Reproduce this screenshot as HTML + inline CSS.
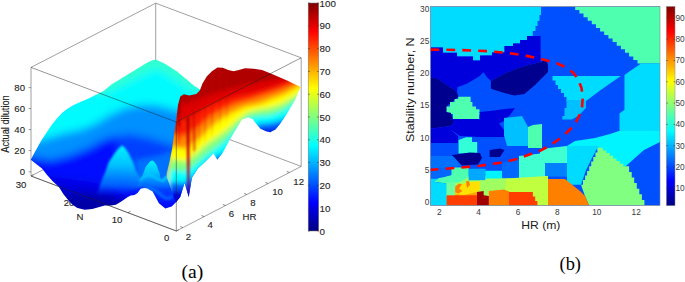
<!DOCTYPE html>
<html><head><meta charset="utf-8">
<style>
html,body{margin:0;padding:0;background:#fff;width:685px;height:282px;overflow:hidden}
svg{position:absolute;left:0;top:0;display:block}
text{font-family:"Liberation Sans",sans-serif}
.t{font-size:9.6px;fill:#1e1e1e;stroke:#1e1e1e;stroke-width:0.12px}
.tb{font-size:8.3px;fill:#3a3a3a}
.lab{font-family:"Liberation Serif",serif;font-size:19.6px;fill:#000}
</style></head>
<body>
<svg width="685" height="282" viewBox="0 0 685 282">
<defs>
<linearGradient id="jetv" x1="0" y1="1" x2="0" y2="0">
<stop offset="0" stop-color="#000080"/>
<stop offset="0.125" stop-color="#0000ff"/>
<stop offset="0.375" stop-color="#00ffff"/>
<stop offset="0.625" stop-color="#ffff00"/>
<stop offset="0.875" stop-color="#ff0000"/>
<stop offset="1" stop-color="#800000"/>
</linearGradient>
</defs>
<rect width="685" height="282" fill="#fff"/>
<g id="A">
<g stroke="#777" stroke-width="0.7" fill="none"><path d="M31 67.4 L155.7 3.2 L301.2 57.8 M155.7 3.2 V111.8 M31 67.4 V176 M301.2 57.8 V166.4 M31 176 L155.7 111.8 L301.2 166.4 M31 176 L176.3 231 L301.2 166.4"/></g>
<g class="t" text-anchor="middle">
<text x="21" y="188.2">30</text>
<text x="69" y="205.8">20</text>
<text x="117" y="223.3">10</text>
<text x="166.6" y="241.4">0</text>
<text x="80" y="219.8">N</text>
<text x="188.4" y="240.1">2</text>
<text x="210.2" y="228.3">4</text>
<text x="231.4" y="217.2">6</text>
<text x="252.9" y="206.4">8</text>
<text x="277.5" y="195.3">10</text>
<text x="298.7" y="184.6">12</text>
<text x="249.5" y="219.9">HR</text>
</g>
<path stroke="#666" stroke-width="0.8" fill="none" d="M176.3 231.0 l2.6 -1.35 M127.9 212.7 l2.6 -1.35 M79.4 194.3 l2.6 -1.35 M31.0 176.0 l2.6 -1.35 M182.9 227.6 l-2.6 -1.0 M204.2 216.6 l-2.6 -1.0 M225.5 205.5 l-2.6 -1.0 M246.8 194.5 l-2.6 -1.0 M268.1 183.5 l-2.6 -1.0 M289.4 172.5 l-2.6 -1.0"/>
<defs>
<mask id="bodyclip" maskUnits="userSpaceOnUse" x="0" y="0" width="685" height="282"><path fill="#fff" d="M30.7 159.7 L36 149.9 L41.3 140.6 L46.6 132.6 L52 124.6 L57.3 118 L62.6 112.6 L67.9 108.6 L73.2 105.2 L78.6 102.8 L83.9 100.6 L89.2 98.3 L95 95.2 L103.5 91 L112 84 L120.5 79 L129 73.8 L137.6 68.4 L146.1 63.2 L151 60.8 L155.6 59.6 L160 61.5 L165.3 64.1 L176.7 71.2 L185.2 78.3 L193.8 85.4 L200 89.6 L200 166 L197.2 169.3 L191.9 177.8 L188.7 196.9 L186 186 L184.5 183.1 L180.2 196.9 L176 202.2 L171.7 206.5 L165.3 208.6 L158.9 203.3 L152.6 191.6 L147.2 188.5 L144.4 188.1 L140.7 188.7 L137.6 193 L134.5 194.9 L130.8 195.5 L127 197.4 L122.1 201.1 L115.9 204.8 L110.9 205.4 L104.7 205.4 L98.5 207.3 L92.3 209.1 L84.9 209.8 L77.4 207.9 L72.5 204.8 L68.5 200.4 L63.3 194 L58.8 186.7 L52.7 181.3 L47.1 175 L42 168.5Z"/></mask>
<mask id="redclip" maskUnits="userSpaceOnUse" x="0" y="0" width="685" height="282"><path fill="#fff" d="M180.3 96.6 L183.9 94.3 L189.2 95.4 L196.3 94 L199.8 90.4 L202.5 83.4 L206.9 76.3 L212.2 71 L217.5 67.4 L222.8 67.8 L228.2 70.1 L233.5 71.3 L238.8 70.1 L245 68.3 L253.9 68.7 L262 70 L271.4 73.7 L287 80.4 L300.5 87 L295 100.3 L290.6 107.4 L285.3 116.3 L279.9 124.2 L275.5 129.6 L270.2 132.2 L265.8 131.3 L260.4 128.7 L256 123.4 L252.5 118.9 L248 117.2 L241.8 119.8 L235 131 L229 141 L222.3 153.6 L217.3 159.8 L213.6 153.6 L204.9 162.3 L197.2 169.3 L191.9 177.8 L188.7 196.9 L184.5 183.1 L180.2 196.9 L176 202.2 L173 195 L170 186 L167 178 L166.5 173.8 L167.9 168.2 L169.9 159.7 L172.2 148.3 L174 135 L176 122 L178 105Z"/></mask>
<filter id="bl6" x="-20%" y="-20%" width="140%" height="140%"><feGaussianBlur stdDeviation="4"/></filter>
<filter id="bl1" x="-50%" y="-20%" width="200%" height="140%"><feGaussianBlur stdDeviation="0.8"/></filter>
<filter id="bl3" x="-20%" y="-20%" width="140%" height="140%"><feGaussianBlur stdDeviation="2.5"/></filter>
<linearGradient id="bump" x1="0" y1="0" x2="0" y2="1"><stop offset="0" stop-color="#00f4ff"/><stop offset="0.4" stop-color="#00c0ff"/><stop offset="0.8" stop-color="#0070ff" stop-opacity="0.8"/><stop offset="1" stop-color="#0040ff" stop-opacity="0"/></linearGradient>
</defs>
<g mask="url(#bodyclip)">
<rect x="25" y="50" width="180" height="170" fill="#0000a8"/>
<g filter="url(#bl6)">
<path fill="#0000e0" d="M20 40 L210 40 L210 212 L175 212 L150 212 L130 205 L110 196 L90 194 L70 194 L50 190 L20 190Z"/>
<path fill="#0010ff" d="M20 40 L210 40 L210 212 L175 212 L140 212 L125 195 L110 186 L90 182 L60 178 L40 176 L20 176Z"/>
<path fill="#0040ff" d="M110 60 L210 60 L210 196 L160 196 L140 190 L125 175 L118 150 L110 60Z"/>
<path fill="#0090ff" d="M20 40 L210 40 L210 146 L175 146 L150 138 L130 134 L110 137 L100 141 L90 147 L70 155 L50 160 L35 157 L20 155Z"/>
<path fill="#00fbff" d="M20 40 L210 40 L210 115 L175 110 L155 105 L140 105 L125 108 L110 115 L95 124 L80 130 L65 133 L55 136 L45 139 L35 141 L20 140Z"/>
<path fill="#30ffd0" d="M20 40 L210 40 L200 95 L185 86 L170 76 L156 68 L140 76 L120 86 L100 95Z"/>
</g>
<g filter="url(#bl3)"><path fill="#0070ff" d="M134 160 L160 155 L172 150 L176 160 L176 185 L160 186 L140 180Z"/></g>
<path fill="url(#bump)" filter="url(#bl1)" d="M97 195 L100 185 L103 177 L105.9 170.5 L108.7 162.3 L114.1 154.1 L118 149 L122.3 145.2 L125 148 L128.5 153 L133 162 L136 170.5 L140 177 L143 186 L120 196Z"/>
<path fill="url(#bump)" d="M138 186 L142.6 175.3 L145.7 166.8 L150 161.5 L152.1 160.4 L154 161.5 L156.4 164.7 L159.6 173.2 L161 181 L164 177 L168.6 174.7 L172 176 L175 186 L160 192Z"/>
<path fill="none" stroke="#00d0ff" stroke-width="2.2" stroke-linecap="round" filter="url(#bl1)" opacity="0.85" d="M140 180 Q147 173 152 176 T163 181 Q168 177 172 170"/>
<path fill="none" stroke="#0090ff" stroke-width="3" filter="url(#bl1)" opacity="0.6" d="M143 190 Q152 186 160 194 T172 196"/>
</g>
<g mask="url(#redclip)">
<rect x="170" y="60" width="140" height="150" fill="#b00000"/>
<g filter="url(#bl3)">
<path fill="#e00000" d="M170 100 L185 104 L200 98 L215 93 L230 89 L245 85 L260 82 L275 79 L290 77 L305 76 L310 240 L160 240Z"/>
<path fill="#ff2000" d="M170 118 L185 120 L200 112 L210 106 L220 102 L235 97 L250 94 L265 90 L280 85 L292 81 L305 78 L310 240 L160 240Z"/>
<path fill="#ff9000" d="M170 134 L185 136 L200 126 L210 117 L220 111 L235 104 L250 100 L265 95 L280 90 L292 85 L305 81 L310 240 L160 240Z"/>
<path fill="#ffff00" d="M170 146 L185 149 L200 138 L210 128 L220 120 L232 113 L245 107 L260 104 L272 99 L285 94 L297 87 L305 84 L310 240 L160 240Z"/>
<path fill="#80ff80" d="M170 159 L185 162 L197 153 L207 144 L217 137 L227 130 L237 121 L247 113 L258 110 L270 108 L282 104 L292 98 L305 90 L310 240 L160 240Z"/>
<path fill="#00ffff" d="M170 169 L185 172 L197 163 L207 154 L217 147 L227 139 L237 128 L247 118 L258 116 L270 115 L282 111 L292 104 L305 94 L310 240 L160 240Z"/>
<path fill="#0060ff" d="M170 182 L185 183 L197 173 L207 162 L217 156 L227 152 L245 140 L258 124 L270 123 L282 120 L292 115 L305 110 L310 240 L160 240Z"/>
<path fill="#0000e0" d="M170 190 L185 190 L200 180 L220 165 L250 140 L262 129 L272 129 L282 127 L305 125 L310 240 L160 240Z"/>
</g>
<linearGradient id="stA" x1="0" y1="0" x2="0" y2="1"><stop offset="0" stop-color="#900000"/><stop offset="0.5" stop-color="#c80000"/><stop offset="0.8" stop-color="#ff3000" stop-opacity="0.6"/><stop offset="1" stop-color="#ff9000" stop-opacity="0"/></linearGradient>
<linearGradient id="stB" x1="0" y1="0" x2="0" y2="1"><stop offset="0" stop-color="#b00000"/><stop offset="0.5" stop-color="#d00010"/><stop offset="0.78" stop-color="#a00050"/><stop offset="1" stop-color="#2000d0"/></linearGradient>
<g filter="url(#bl1)">
<path fill="url(#stA)" d="M176.6 100 L180.6 97 L181 145 L177.5 150Z"/>
<path fill="url(#stB)" d="M186.2 118 L189.6 116 L189.4 196 L187.6 194Z"/>
<path fill="#d00000" opacity="0.4" d="M192 110 L196 108 L196 150 L193 152Z"/>
<linearGradient id="stC" x1="0" y1="0" x2="0" y2="1"><stop offset="0" stop-color="#c00000" stop-opacity="0.5"/><stop offset="0.7" stop-color="#e00000" stop-opacity="0.35"/><stop offset="1" stop-color="#e00000" stop-opacity="0"/></linearGradient>
<path fill="url(#stC)" d="M182.5 96 L184.1 96 L183.78 150 L182.82 150Z"/>
<path fill="url(#stC)" d="M192.5 95 L194.7 95 L194.26 160 L192.94 160Z"/>
<path fill="url(#stC)" d="M198 92 L199.8 92 L199.44 150 L198.36 150Z"/>
<path fill="url(#stC)" d="M204 85 L206 85 L205.6 145 L204.4 145Z"/>
<path fill="url(#stC)" d="M211 75 L213 75 L212.6 140 L211.4 140Z"/>
<path fill="url(#stC)" d="M219 70 L220.8 70 L220.44 130 L219.36 130Z"/>
<path fill="url(#stC)" d="M226 72 L227.6 72 L227.28 125 L226.32 125Z"/>
</g>
</g>
<g stroke="#222" stroke-width="0.6" fill="none" opacity="0.8"><path d="M31 67.4 L176.3 122 L301.2 57.8 M176.3 122 V231 M31 176 L176.3 231"/></g>
<g stroke="#555" stroke-width="0.6"><path d="M28.6 87.6H31 M28.6 108.5H31 M28.6 129.6H31 M28.6 150.6H31 M28.6 171.8H31"/></g>
<g class="t" text-anchor="end">
<text x="25" y="174.9">0</text>
<text x="25" y="153.8">20</text>
<text x="25" y="132.8">40</text>
<text x="25" y="111.6">60</text>
<text x="25" y="90.8">80</text>
</g>
<text class="t" transform="translate(9.3 124) rotate(-90)" text-anchor="middle" textLength="57.5" lengthAdjust="spacingAndGlyphs" style="font-size:10px">Actual dilution</text>
<rect x="308.2" y="3" width="10.5" height="228" fill="url(#jetv)" stroke="#777" stroke-width="0.5"/>
<path stroke="#333" stroke-width="0.6" d="M308.2 231.0h1.6 M317.1 231.0h1.6 M308.2 208.2h1.6 M317.1 208.2h1.6 M308.2 185.4h1.6 M317.1 185.4h1.6 M308.2 162.6h1.6 M317.1 162.6h1.6 M308.2 139.8h1.6 M317.1 139.8h1.6 M308.2 117.0h1.6 M317.1 117.0h1.6 M308.2 94.2h1.6 M317.1 94.2h1.6 M308.2 71.4h1.6 M317.1 71.4h1.6 M308.2 48.6h1.6 M317.1 48.6h1.6 M308.2 25.8h1.6 M317.1 25.8h1.6 M308.2 3.0h1.6 M317.1 3.0h1.6"/>
<g class="t" style="font-size:9.8px">
<text x="319.6" y="234.5">0</text>
<text x="319.6" y="211.7">10</text>
<text x="319.6" y="188.9">20</text>
<text x="319.6" y="166.1">30</text>
<text x="319.6" y="143.3">40</text>
<text x="319.6" y="120.5">50</text>
<text x="319.6" y="97.7">60</text>
<text x="319.6" y="74.9">70</text>
<text x="319.6" y="52.1">80</text>
<text x="319.6" y="29.3">90</text>
<text x="319.6" y="7.0">100</text>
</g>
<text class="lab" x="181.6" y="278">(a)</text>
</g>
<g id="B">
<rect x="430.5" y="6.5" width="229.5" height="199" fill="#0050ff"/>
<defs><clipPath id="axb"><rect x="430.5" y="6.5" width="229.5" height="199"/></clipPath><filter id="blp" x="-5%" y="-5%" width="110%" height="110%"><feGaussianBlur stdDeviation="0.45"/></filter></defs>
<g clip-path="url(#axb)"><g id="patches" filter="url(#blp)">
<path fill="#00dcff" d="M430.5 6.5 L430.5 47.4 L443 47.4 L443 52.7 L457 52.7 L457 56.6 L473 56.6 L473 60.6 L480 60.6 L480 55.4 L492 55.4 L492 52.4 L504.5 52.4 L504.5 46 L513 46 L513 43.5 L520 43.5 L520 40 L527 40 L527 36 L532.7 36 L532.7 31 L535.5 31 L535.5 26 L537.5 26 L537.5 21 L539.5 21 L539.5 15 L541 15 L541 6.5Z"/>
<path fill="#50ffb0" d="M575.2 6.5 L575.2 10.1 L579.4 10.1 L579.4 13.6 L583.5 13.6 L583.5 17.2 L587.7 17.2 L587.7 20.8 L591.8 20.8 L591.8 24.3 L596 24.3 L596 27.9 L600.1 27.9 L600.1 31.4 L604.2 31.4 L604.2 35 L608.4 35 L608.4 38.6 L612.6 38.6 L612.6 42.1 L616.7 42.1 L616.7 45.7 L620.9 45.7 L620.9 49.2 L625 49.2 L625 52.8 L629.1 52.8 L629.1 56.4 L633.3 56.4 L633.3 59.9 L637.5 59.9 L637.5 63.5 L641.6 63.5 L660 63.5 L660 6.5Z"/>
<path fill="#0000dc" d="M430.5 47.4 L443 47.4 L443 52.7 L457 52.7 L457 56.6 L473 56.6 L473 60.6 L480 60.6 L480 55.4 L492 55.4 L492 52.4 L504.5 52.4 L504.5 46 L513 46 L513 43.5 L520 43.5 L520 40 L527 40 L527 36 L532.7 36 L540.6 36 L540.6 62 L529.4 64.8 L516.9 68.6 L504.5 73.5 L490.9 81 L487.1 77.3 L483.4 72.3 L479.7 76 L473.5 79.7 L467.3 83.5 L457.3 87.2 L457.3 93.4 L454.8 89.7 L449.9 87.2 L444.9 83.5 L437.5 78.5 L430.5 77.3Z"/>
<path fill="#00008f" d="M430.5 77.3 L437.5 78.5 L444.9 83.5 L449.9 87.2 L454.8 89.7 L457.3 93.4 L458.5 96.8 L454.6 100 L446.6 106.5 L446.6 111.9 L451 112.8 L452.9 119 L454.6 121.6 L451 126 L430.5 128.7Z"/>
<path fill="#00008f" d="M490.9 81 L504.5 73.5 L516.9 68.6 L529.4 64.8 L540.6 62 L546 59 L548 65 L548 72 L540 80 L535 85 L524.4 94 L514.5 95.5 L504.5 93 L494.6 90 L490.9 88.4Z"/>
<path fill="#00dcff" d="M641 63.5 L660 63.5 L660 133 L619.5 133 L619.5 113.4 L624.5 109.7 L624.5 74.9 L630 71 L636 67Z"/>
<path fill="#00dcff" d="M552.5 76.1 L620.8 76.1 L610 83.5 L600 90.5 L586 101 L568.6 101 L566.5 101 L566.5 97 L564 97 L564 93 L561 93 L561 89 L558 89 L558 85 L555.5 85 L555.5 80.5 L552.5 80.5Z"/>
<path fill="#00c0ff" d="M566.5 100 L586 100 L586 108 L582 112 L578 116 L572 119.6 L562.4 119.6 L562.4 116 L564.5 116 L564.5 108 L566.5 108Z"/>
<path fill="#00f4ff" d="M619 131 L660 131 L660 142 L652 146 L644 150 L636 157 L626 166 L620 170 L600 162 L597 146 L567 146 L575 141 L595 138 L610 134Z"/>
<path fill="#40ffd0" d="M540 149 L567 146 L567 163 L545 165.5 L540 165.5Z"/>
<path fill="#0080ff" d="M542 163 L567 163 L567 176.5 L542 176.5Z"/>
<path fill="#00dcff" d="M567 146 L600 146 L597.4 147.8 L592 158 L586 170 L581 184.7 L567 184.7Z"/>
<path fill="#80ff80" d="M597.4 147.8 L602.9 147.8 L602.9 150.4 L606.3 150.4 L606.3 153.1 L609.7 153.1 L609.7 155.7 L613.1 155.7 L613.1 158.4 L616.4 158.4 L616.4 161 L619.8 161 L619.8 163.7 L623.2 163.7 L623.2 166.3 L626.6 166.3 L629.1 166.3 L629.1 171.9 L631.7 171.9 L631.7 177.5 L634.2 177.5 L634.2 183.1 L636.8 183.1 L636.8 188.7 L639.3 188.7 L639.3 194.3 L641.9 194.3 L641.9 199.9 L644.4 199.9 L644.4 205.5 L589.2 205.5 L585 196 L581 184.7 L583 184.7 L583 180.1 L585.1 180.1 L585.1 175.5 L587.1 175.5 L587.1 170.9 L589.2 170.9 L589.2 166.2 L591.2 166.2 L591.2 161.6 L593.3 161.6 L593.3 157 L595.4 157 L595.4 152.4 L597.4 152.4 L597.4 147.8Z"/>
<path fill="#ff8000" d="M545 179 L565 179 L570 183 L575 187 L580 191 L585 196 L589.2 205.5 L545 205.5Z"/>
<path fill="#50ffb0" d="M458.2 96.8 L470.6 96.8 L470.6 102.1 L472.4 102.1 L472.4 106.5 L475.9 106.5 L475.9 109.2 L479.5 109.2 L479.5 119 L452.9 119 L452.9 114 L451 114 L451 112.8 L446.6 112 L446.6 106.5 L450 106.5 L450 102.1 L454.6 102.1 L454.6 99 L458.2 99Z"/>
<path fill="#0000dc" d="M451 119 L479.5 119 L479.5 114.5 L490 114 L498 122 L504 130 L504 137 L480 137 L460 136 L451 130 L451 126 L454.6 121.6Z"/>
<path fill="#0000dc" d="M479.5 112 L490 111 L505 109 L515 108 L510 115 L504 121 L498 124 L490 128 L482 122Z"/>
<path fill="#0000dc" d="M430.5 128.7 L451 126 L451 130 L458 136 L458 143.5 L430.5 143.5Z"/>
<path fill="#0050ff" d="M430.5 143 L458 143 L458 156.5 L430.5 156.5Z"/>
<path fill="#30ffd8" d="M458.6 140 L466 137.3 L472 137.3 L472 142 L477.2 142 L477.2 153.4 L458.6 153.4Z"/>
<path fill="#00008f" d="M452 155 L470 152.5 L480 153 L482 158 L478 164.6 L460 165.5 L452 163Z"/>
<path fill="#00008f" d="M489.6 150 L500 148.4 L504.5 150 L500 157.1 L489.6 157.1Z"/>
<path fill="#00c0ff" d="M504 118 L522 116 L528 127 L528 146 L507 146 L504 135Z"/>
<path fill="#50ffb0" d="M528 127 L533 125 L542 124 L542 148 L528 148Z"/>
<path fill="#a0ff60" d="M446 176 L548 176 L548 205.5 L446 205.5Z"/>
<path fill="#0070ff" d="M430.5 156 L453 156 L462 166 L430.5 169.5Z"/>
<path fill="#0068ff" d="M430.5 169 L452 167.5 L451.8 175.1 L446.8 176.8 L438.4 178.5 L430.5 178.5Z"/>
<path fill="#50ffb0" d="M451.5 167.5 L468.8 167.2 L468.8 177 L460.2 181.8 L453.5 183.5 L446.8 183.5 L433.4 181.8 L438.4 178.3 L446.8 176.6 L451.5 174.9Z"/>
<path fill="#00a8ff" d="M468.6 168.8 L485.6 168.8 L485.6 180.3 L468.6 180.3Z"/>
<path fill="#00f4ff" d="M485.4 170.8 L502.2 170.8 L502.2 178.2 L495 181 L485.4 183.5Z"/>
<path fill="#0068ff" d="M502 163 L519.2 159 L519.2 178.6 L502 178.6Z"/>
<path fill="#40ffd0" d="M519 156 L545 153 L545 178.6 L519 178.6Z"/>
<path fill="#00dcff" d="M430.5 178.8 L438.4 178.8 L433.4 181.8 L446.8 183.5 L446.8 205.5 L430.5 205.5Z"/>
<path fill="#70ffa0" d="M446.6 183.3 L455.4 182 L455.4 196 L446.6 196Z"/>
<path fill="#ffa000" d="M455.2 191 L477 189 L477 196.5 L455.2 196.5Z"/>
<path fill="#ffe000" d="M455.2 194 L455.2 186.9 L463.6 183.5 L473.6 181.8 L485.6 180.8 L485.6 186.9 L477 191.9 L463.6 195.3Z"/>
<path fill="#ff8000" d="M455.2 186.5 L459 183.5 L462 184.5 L459 188.5 L462.5 191 L458.5 193.5 L455.2 192.5Z"/>
<path fill="#ff8000" d="M466 181.5 L469 180.8 L470 185 L467 188Z"/>
<path fill="#a0ff60" d="M479.8 180.5 L485.6 180.5 L485.6 178.5 L505.7 178.5 L505.7 192.5 L485.6 192 L479.8 191.5Z"/>
<path fill="#c0ff40" d="M505.5 178.5 L548 176 L548 205.5 L505.5 205.5Z"/>
<path fill="#ff3c00" d="M446.6 195.3 L477.2 195.3 L477.2 205.5 L446.6 205.5Z"/>
<path fill="#a00000" d="M477 191.9 L483.7 191 L483.7 195.3 L489 196.1 L489 205.5 L477 205.5Z"/>
<path fill="#ff8000" d="M488.8 191 L503.9 189.4 L509.2 191.6 L509.2 205.5 L488.8 205.5Z"/>
<path fill="#ff3c00" d="M509 191.9 L530.7 191.9 L532.9 191.9 L532.9 196.4 L535.2 196.4 L535.2 201 L537.4 201 L537.4 205.5 L509 205.5Z"/>
</g></g>
<path d="M430.5 49.6 L460 50 L490 51.3 L507 52.9 L525 55.5 L540 58.7 L557 63.3 L566 67.5 L573 72.5 L578 79 L581.5 88 L582.8 97.5 L582 107 L579.7 114.6 L576 122 L570 129.5 L562 137 L550 145.5 L540 150.8 L528 155 L515 159.5 L500 162.8 L480 165.8 L455 168 L430.5 169.8" fill="none" stroke="#ff0000" stroke-width="2.6" stroke-dasharray="8.8 7.1"/>
<rect x="430.5" y="6.5" width="229.5" height="199" fill="none" stroke="#888" stroke-width="0.6"/>
<g class="tb" text-anchor="end">
<text x="429.3" y="205.3">0</text>
<text x="429.3" y="173.0">5</text>
<text x="429.3" y="140.7">10</text>
<text x="429.3" y="108.4">15</text>
<text x="429.3" y="76.1">20</text>
<text x="429.3" y="43.8">25</text>
<text x="429.3" y="11.5">30</text>
</g>
<g class="tb" text-anchor="middle">
<text x="439.2" y="214.6">2</text>
<text x="478.6" y="214.6">4</text>
<text x="518.0" y="214.6">6</text>
<text x="557.4" y="214.6">8</text>
<text x="596.8" y="214.6">10</text>
<text x="636.2" y="214.6">12</text>
</g>
<text x="521.2" y="228.7" style="font-size:11.6px;fill:#1a1a1a" textLength="39.2" lengthAdjust="spacingAndGlyphs">HR (m)</text>
<text transform="translate(414.4 89.7) rotate(-90)" text-anchor="middle" style="font-size:11.5px;fill:#1a1a1a" textLength="104.5" lengthAdjust="spacingAndGlyphs">Stability number, N</text>
<rect x="666.4" y="6.5" width="8.6" height="199.2" fill="url(#jetv)" stroke="#888" stroke-width="0.5"/>
<path stroke="#333" stroke-width="0.6" d="M666.4 188.3h1.4 M673.6 188.3h1.4 M666.4 167.0h1.4 M673.6 167.0h1.4 M666.4 145.7h1.4 M673.6 145.7h1.4 M666.4 124.4h1.4 M673.6 124.4h1.4 M666.4 103.1h1.4 M673.6 103.1h1.4 M666.4 81.8h1.4 M673.6 81.8h1.4 M666.4 60.5h1.4 M673.6 60.5h1.4 M666.4 39.2h1.4 M673.6 39.2h1.4 M666.4 17.9h1.4 M673.6 17.9h1.4"/>
<g class="tb">
<text x="675.4" y="191.2">10</text>
<text x="675.4" y="169.9">20</text>
<text x="675.4" y="148.6">30</text>
<text x="675.4" y="127.3">40</text>
<text x="675.4" y="106.0">50</text>
<text x="675.4" y="84.7">60</text>
<text x="675.4" y="63.4">70</text>
<text x="675.4" y="42.1">80</text>
<text x="675.4" y="20.8">90</text>
</g>
<text class="lab" x="559.6" y="269.8" textLength="21.4" lengthAdjust="spacingAndGlyphs">(b)</text>
</g>
</svg>
</body></html>
